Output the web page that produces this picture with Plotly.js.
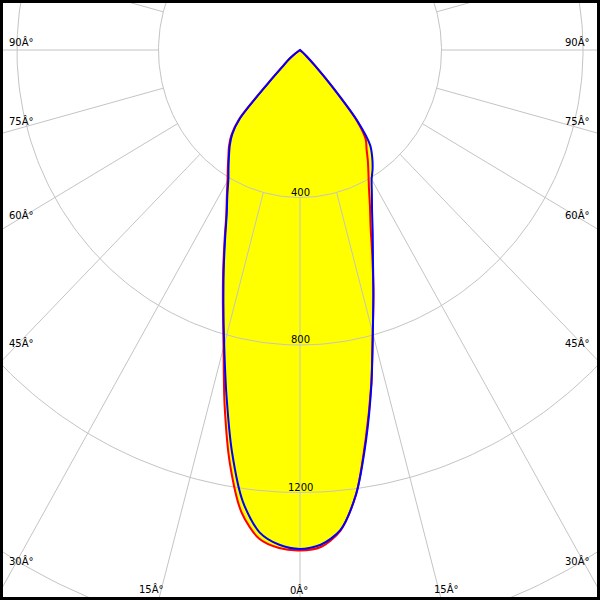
<!DOCTYPE html>
<html>
<head>
<meta charset="utf-8">
<script src="https://cdn.plot.ly/plotly-3.0.1.min.js"></script>
<style>
html,body{margin:0;padding:0;background:#fff;}
#chart{width:600px;height:600px;}
</style>
</head>
<body>
<div id="chart"></div>
<script>
// gamma angles (degrees from nadir)
const gammaAngles = [0, 2.5, 5, 7.5, 10, 12.5, 15, 17.5, 20, 22.5, 25, 27.5, 30, 32.5, 35, 37.5, 40, 42.5, 45, 47.5, 50, 52.5, 55, 60, 70, 80, 90];
// red curve (C0 right side / C180 left side), cd
const redRight = [1357, 1349, 1309, 1215, 1070, 930, 795, 690, 598, 522, 468, 422, 387, 357, 328, 305, 250, 132, 58, 25, 10, 0, 0, 0, 0, 0, 0];
const redLeft  = [1357, 1352, 1330, 1265, 1140, 985, 835, 725, 635, 557, 493, 448, 410, 380, 353, 330, 302, 255, 128, 70, 48, 32, 15, 0, 0, 0, 0];
// blue curve (C90 right side / C270 left side), cd
const blueRight = [1353, 1343, 1307, 1215, 1075, 932, 795, 690, 603, 537, 482, 440, 405, 382, 356, 326, 256, 135, 60, 25, 10, 0, 0, 0, 0, 0, 0];
const blueLeft  = [1353, 1343, 1313, 1236, 1107, 960, 828, 720, 630, 553, 490, 445, 405, 376, 350, 326, 298, 251, 126, 68, 48, 32, 15, 0, 0, 0, 0];
// grid
const ringValues = [400, 800, 1200, 1600];
const ringLabels = ["400", "800", "1200"];
const rayAngles = [0, 15, 30, 45, 60, 75, 90, 105, 120, 135, 150, 165, 180, 195, 210, 225, 240, 255, 270, 285, 300, 315, 330, 345];
const angleLabels = ["0Â°", "15Â°", "30Â°", "45Â°", "60Â°", "75Â°", "90Â°"];

const rad = d => d * Math.PI / 180;
function curveXY(left, right) {
  const xs = [], ys = [];
  for (let i = gammaAngles.length - 1; i >= 0; i--) {
    const t = -rad(gammaAngles[i]), r = left[i];
    xs.push(r * Math.sin(t)); ys.push(-r * Math.cos(t));
  }
  for (let i = 1; i < gammaAngles.length; i++) {
    const t = rad(gammaAngles[i]), r = right[i];
    xs.push(r * Math.sin(t)); ys.push(-r * Math.cos(t));
  }
  return {x: xs, y: ys};
}
const red = curveXY(redLeft, redRight);
const blue = curveXY(blueLeft, blueRight);

// rings
const ringX = [], ringY = [];
ringValues.forEach(r => {
  for (let a = 0; a <= 360; a += 1) { ringX.push(r * Math.sin(rad(a))); ringY.push(-r * Math.cos(rad(a))); }
  ringX.push(null); ringY.push(null);
});
// rays
const rayX = [], rayY = [];
const rInner = ringValues[0], rOuter = 2400;
rayAngles.forEach(a => {
  rayX.push(rInner * Math.sin(rad(a)), rOuter * Math.sin(rad(a)), null);
  rayY.push(-rInner * Math.cos(rad(a)), -rOuter * Math.cos(rad(a)), null);
});

const gridColor = "#c4c4c4";
const curveLine = (c, w) => ({width: w, color: c, shape: "spline", smoothing: 0.8});
const traces = [
  {x: red.x, y: red.y, mode: "lines", fill: "toself", fillcolor: "#ffff00", line: curveLine("#ffff00", 0), hoverinfo: "skip"},
  {x: blue.x, y: blue.y, mode: "lines", fill: "toself", fillcolor: "#ffff00", line: curveLine("#ffff00", 0), hoverinfo: "skip"},
  {x: ringX, y: ringY, mode: "lines", line: {width: 1, color: gridColor}, hoverinfo: "skip"},
  {x: rayX, y: rayY, mode: "lines", line: {width: 1, color: gridColor}, hoverinfo: "skip"},
  {x: red.x, y: red.y, mode: "lines", line: curveLine("#ff0000", 2), hoverinfo: "skip"},
  {x: blue.x, y: blue.y, mode: "lines", line: curveLine("#0000ff", 2), hoverinfo: "skip"}
];

const labelFont = {family: "DejaVu Sans", size: 10, color: "#000"};
const annotations = [];
ringLabels.forEach((t, i) => {
  annotations.push({x: 0, y: -ringValues[i], xref: "x", yref: "y", text: t, showarrow: false,
    xanchor: "center", yanchor: "middle", yshift: 5.5, font: labelFont});
});
// angle label placements (pixel positions in the 600x600 frame)
const leftLabelPos = [[null, null], [151.5, 589], [21.5, 561], [21.5, 342.5], [21.5, 215], [21.5, 121], [21.5, 42]];
const rightLabelPos = [[299, 589.5], [446, 589], [577, 561], [577, 342.5], [577, 215], [577, 121], [577, 42]];
angleLabels.forEach((t, i) => {
  [leftLabelPos[i], rightLabelPos[i]].forEach(p => {
    if (p[0] === null) return;
    annotations.push({x: p[0] / 600, y: 1 - p[1] / 600, xref: "paper", yref: "paper", text: t, showarrow: false,
      xanchor: "center", yanchor: "middle", font: labelFont});
  });
});

const layout = {
  width: 600, height: 600,
  margin: {l: 0, r: 0, t: 0, b: 0, pad: 0},
  paper_bgcolor: "#ffffff", plot_bgcolor: "#ffffff",
  showlegend: false,
  xaxis: {range: [-848, 848], visible: false, showgrid: false, zeroline: false, fixedrange: true},
  yaxis: {range: [-1491.5, 135.6], visible: false, showgrid: false, zeroline: false, fixedrange: true},
  annotations: annotations,
  shapes: [{type: "rect", xref: "paper", yref: "paper", x0: 0, x1: 1, y0: 0, y1: 1, line: {color: "#000", width: 6}, layer: "above"}]
};
Plotly.newPlot("chart", traces, layout, {displayModeBar: false, staticPlot: true});
</script>
</body>
</html>
